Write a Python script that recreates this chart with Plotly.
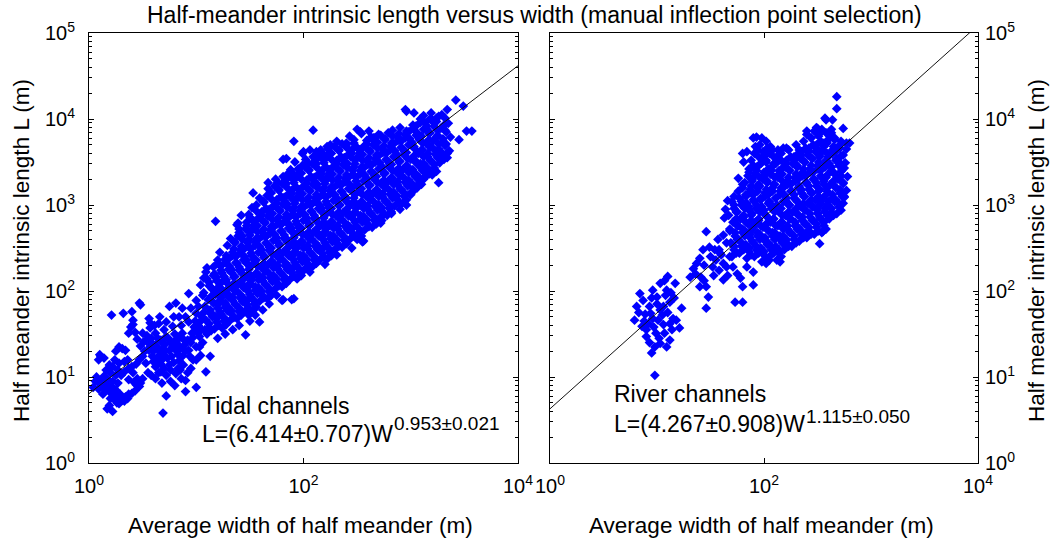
import plotly.graph_objects as go

# ---------------------------------------------------------------------------
# Half-meander measurements, stored as log10 values (W = average width,
# L = intrinsic length, both in metres).
# ---------------------------------------------------------------------------

# Tidal channels: narrow channels (W ~ 1-3 m)
tidal_lw_narrow = [
    0.06, 0.11, 0.09, 0.14, 0.28, 0.31, 0.34, 0.25, 0.19, 0.16,
    0.22, 0.28, 0.33, 0.40, 0.44, 0.47, 0.37, 0.14, 0.12, 0.17,
    0.22, 0.25, 0.20, 0.10, 0.12, 0.16, 0.19, 0.25, 0.22, 0.09,
    0.34, 0.37, 0.40, 0.43, 0.47, 0.45, 0.42, 0.37, 0.50, 0.48,
    0.31, 0.28, 0.23, 0.26, 0.19, 0.22, 0.17, 0.28, 0.33, 0.30,
    0.33, 0.27, 0.10, 0.21, 0.69, 0.04, 0.07, 0.15, 0.29,
    0.18, 0.24, 0.44, 0.13, 0.20, 0.36, 0.27, 0.41, 0.36, 0.24,
]
tidal_ll_narrow = [
    0.95, 1.24, 1.20, 1.22, 1.35, 1.33, 1.31, 1.30, 1.14, 1.08,
    1.12, 1.16, 1.18, 1.12, 1.15, 1.20, 1.10, 1.01, 0.96, 0.98,
    0.95, 1.02, 1.05, 0.92, 0.89, 0.86, 0.83, 0.85, 0.88, 0.86,
    0.77, 0.80, 0.81, 0.84, 0.89, 0.98, 0.94, 0.97, 0.98, 0.93,
    0.73, 0.75, 0.75, 0.70, 0.67, 0.60, 0.63, 0.69, 0.72, 1.02,
    1.06, 1.08, 1.26, 1.72, 0.58, 0.88, 1.00, 0.92, 0.80,
    0.90, 0.80, 0.91, 0.80, 0.75, 0.75, 0.93, 1.05, 1.20, 1.20,
]

# Tidal channels: W ~ 2.5-13 m
tidal_lw_small = [
    0.40, 0.47, 0.39, 0.50, 0.56, 0.65, 0.75, 0.81, 0.87, 0.72,
    0.78, 0.87, 0.93, 1.00, 0.59, 0.65, 0.59, 0.68, 0.62, 0.75,
    0.56, 0.53, 0.81, 0.87, 0.93, 1.00, 0.82, 0.75, 0.72, 0.81,
    0.90, 1.00, 0.90, 0.72, 1.09, 1.13, 1.03, 0.96, 1.00, 0.93,
    1.10, 0.62, 0.67, 0.60, 0.63, 0.66, 0.69, 0.70, 0.62, 0.68,
    0.58, 0.55, 0.64, 0.71, 0.73, 0.77, 0.79, 0.84, 0.85, 0.89,
    0.92, 0.95, 0.98, 1.02, 1.05, 1.07, 0.84, 0.80, 0.76, 0.86,
    0.90, 0.84, 0.70, 0.66, 0.61, 0.57, 0.54, 0.52, 0.50, 0.48,
    0.45, 0.43, 0.55, 0.62, 0.68, 0.76, 0.80, 0.85, 0.95, 0.97,
    0.92, 1.04, 1.06, 1.08, 1.00, 0.86, 0.67, 0.58, 0.32, 0.41,
    0.48, 0.57, 0.54, 0.41, 0.37, 0.51,
    0.60, 0.64, 0.67, 0.71, 0.74, 0.78, 0.80, 0.83, 0.88, 0.90,
    0.94, 0.97, 0.99, 1.01, 1.05, 0.88, 0.83, 0.70, 0.65, 0.76,
    0.57, 0.72, 0.79, 0.95, 1.03,
]
tidal_ll_small = [
    1.76, 1.86, 1.58, 1.51, 1.68, 1.62, 1.82, 1.86, 1.80, 1.47,
    1.59, 1.51, 1.64, 1.74, 1.39, 1.31, 1.24, 1.20, 1.12, 1.14,
    1.31, 1.16, 1.31, 1.24, 1.31, 1.35, 1.39, 1.31, 1.02, 1.04,
    0.96, 0.88, 0.83, 0.78, 1.06, 1.24, 1.47, 1.51, 1.89, 1.97,
    2.27, 1.51, 1.43, 1.30, 1.20, 1.26, 1.33, 1.24, 1.37, 1.40,
    1.45, 1.40, 1.45, 1.38, 1.22, 1.24, 1.17, 1.19, 1.33, 1.37,
    1.43, 1.40, 1.58, 1.60, 1.66, 1.75, 1.45, 1.50, 1.40, 1.60,
    1.70, 1.70, 1.55, 1.70, 1.60, 1.57, 1.48, 1.30, 1.24, 1.36,
    1.44, 1.52, 1.05, 0.98, 0.93, 0.95, 0.90, 1.08, 1.10, 1.20,
    1.05, 1.25, 1.40, 1.55, 1.20, 0.98, 1.06, 1.02, 1.74, 1.66,
    1.84, 1.63, 1.43, 1.61, 1.51, 1.41,
    1.18, 1.34, 1.15, 1.30, 1.45, 1.35, 1.42, 1.26, 1.44, 1.30,
    1.24, 1.46, 1.65, 1.52, 1.55, 1.14, 1.10, 1.10, 1.05, 1.08,
    1.35, 1.64, 1.70, 1.80, 1.35,
]

# Tidal channels: lower edge of the main group (W ~ 10-80 m)
tidal_lw_edge = [
    1.20, 1.27, 1.34, 1.40, 1.46, 1.50, 1.59, 1.55, 1.62, 1.68,
    1.80, 1.81, 1.89, 1.75, 1.03, 1.05, 1.02, 1.06, 1.04, 1.07,
    1.18, 1.23, 1.27, 1.40, 1.49,
]
tidal_ll_edge = [
    1.45, 1.50, 1.55, 1.60, 1.49, 1.65, 1.64, 1.72, 1.78, 1.85,
    1.89, 1.90, 1.90, 1.95, 1.55, 1.70, 1.82, 1.95, 2.07, 2.15,
    1.70, 2.03, 1.86, 1.80, 1.72,
]

# Tidal channels: main group (W ~ 12-2300 m), one line per width band
tidal_lw_main = [
    1.10, 1.12, 1.09, 1.13, 1.08, 1.11, 1.07, 1.12, 1.10, 1.09,
    1.17, 1.19, 1.16, 1.20, 1.15, 1.18, 1.14, 1.19, 1.17, 1.16, 1.20,
    1.24, 1.26, 1.23, 1.27, 1.22, 1.25, 1.21, 1.26, 1.24, 1.23, 1.27, 1.22,
    1.31, 1.33, 1.30, 1.34, 1.29, 1.32, 1.28, 1.33, 1.31, 1.30, 1.34, 1.29, 1.32,
    1.38, 1.40, 1.37, 1.41, 1.36, 1.39, 1.35, 1.40, 1.38, 1.37, 1.41, 1.36, 1.39, 1.40,
    1.45, 1.47, 1.44, 1.48, 1.43, 1.46, 1.42, 1.47, 1.45, 1.44, 1.48, 1.43, 1.46, 1.47, 1.42,
    1.52, 1.54, 1.51, 1.55, 1.50, 1.53, 1.49, 1.54, 1.52, 1.51, 1.55, 1.50, 1.53, 1.54, 1.49, 1.52,
    1.59, 1.61, 1.58, 1.62, 1.57, 1.60, 1.56, 1.61, 1.59, 1.58, 1.62, 1.57, 1.60, 1.61, 1.56, 1.59,
    1.66, 1.68, 1.65, 1.69, 1.64, 1.67, 1.63, 1.68, 1.66, 1.65, 1.69, 1.64, 1.67, 1.68, 1.63, 1.66, 1.67,
    1.73, 1.75, 1.72, 1.76, 1.71, 1.74, 1.70, 1.75, 1.73, 1.72, 1.76, 1.71, 1.74, 1.75, 1.70, 1.73, 1.74,
    1.80, 1.82, 1.79, 1.83, 1.78, 1.81, 1.77, 1.82, 1.80, 1.79, 1.83, 1.78, 1.81, 1.82, 1.77, 1.80, 1.81,
    1.87, 1.89, 1.86, 1.90, 1.85, 1.88, 1.84, 1.89, 1.87, 1.86, 1.90, 1.85, 1.88, 1.89, 1.84, 1.87, 1.88,
    1.94, 1.96, 1.93, 1.97, 1.92, 1.95, 1.91, 1.96, 1.94, 1.93, 1.97, 1.92, 1.95, 1.96, 1.91, 1.94, 1.95, 1.92,
    2.01, 2.03, 2.00, 2.04, 1.99, 2.02, 1.98, 2.03, 2.01, 2.00, 2.04, 1.99, 2.02, 2.03, 1.98, 2.01, 2.02,
    2.08, 2.10, 2.07, 2.11, 2.06, 2.09, 2.05, 2.10, 2.08, 2.07, 2.11, 2.06, 2.09, 2.10, 2.05, 2.08, 2.09, 2.06,
    2.15, 2.17, 2.14, 2.18, 2.13, 2.16, 2.12, 2.17, 2.15, 2.14, 2.18, 2.13, 2.16, 2.17, 2.12, 2.15, 2.16,
    2.22, 2.24, 2.21, 2.25, 2.20, 2.23, 2.19, 2.24, 2.22, 2.21, 2.25, 2.20, 2.23, 2.24, 2.19, 2.22, 2.23,
    2.29, 2.31, 2.28, 2.32, 2.27, 2.30, 2.26, 2.31, 2.29, 2.28, 2.32, 2.27, 2.30, 2.31, 2.26, 2.29,
    2.36, 2.38, 2.35, 2.39, 2.34, 2.37, 2.33, 2.38, 2.36, 2.35, 2.39, 2.34, 2.37, 2.38, 2.33, 2.36,
    2.43, 2.45, 2.42, 2.46, 2.41, 2.44, 2.40, 2.45, 2.43, 2.42, 2.46, 2.41, 2.44, 2.45, 2.40, 2.43,
    2.50, 2.52, 2.49, 2.53, 2.48, 2.51, 2.47, 2.52, 2.50, 2.49, 2.53, 2.48, 2.51, 2.52, 2.47,
    2.57, 2.59, 2.56, 2.60, 2.55, 2.58, 2.54, 2.59, 2.57, 2.56, 2.60, 2.55, 2.58, 2.59, 2.54,
    2.64, 2.66, 2.63, 2.67, 2.62, 2.65, 2.61, 2.66, 2.64, 2.63, 2.67, 2.62, 2.65, 2.66, 2.61,
    2.71, 2.73, 2.70, 2.74, 2.69, 2.72, 2.68, 2.73, 2.71, 2.70, 2.74, 2.69, 2.72,
    2.78, 2.80, 2.77, 2.81, 2.76, 2.79, 2.75, 2.80, 2.78, 2.77, 2.81, 2.76, 2.79,
    2.85, 2.87, 2.84, 2.88, 2.83, 2.86, 2.82, 2.87, 2.85, 2.84, 2.88, 2.83,
    2.92, 2.94, 2.91, 2.95, 2.90, 2.93, 2.89, 2.94, 2.92, 2.91, 2.95, 2.90,
    2.99, 3.01, 2.98, 3.02, 2.97, 3.00, 2.96, 3.01, 2.99, 2.98, 3.02,
    3.06, 3.08, 3.05, 3.09, 3.04, 3.07, 3.03, 3.08, 3.06, 3.05, 3.09,
    3.13, 3.15, 3.12, 3.16, 3.11, 3.14, 3.10, 3.15, 3.13, 3.12,
    3.20, 3.22, 3.19, 3.23, 3.18, 3.21, 3.17, 3.22, 3.20, 3.19,
    3.27, 3.29, 3.26, 3.30, 3.25, 3.28, 3.24, 3.29,
    3.34, 3.36, 3.33, 3.37, 3.32, 3.35,
    # in-between bands
    1.14, 1.12, 1.15, 1.13, 1.16, 1.14, 1.15, 1.12, 1.16,
    1.21, 1.19, 1.22, 1.20, 1.23, 1.21, 1.22, 1.19, 1.23, 1.20,
    1.28, 1.26, 1.29, 1.27, 1.30, 1.28, 1.29, 1.26, 1.30, 1.27, 1.28,
    1.35, 1.33, 1.36, 1.34, 1.37, 1.35, 1.36, 1.33, 1.37, 1.34, 1.35, 1.36,
    1.42, 1.40, 1.43, 1.41, 1.44, 1.42, 1.43, 1.40, 1.44, 1.41, 1.42, 1.43, 1.40,
    1.49, 1.47, 1.50, 1.48, 1.51, 1.49, 1.50, 1.47, 1.51, 1.48, 1.49, 1.50, 1.47, 1.51,
    1.56, 1.54, 1.57, 1.55, 1.58, 1.56, 1.57, 1.54, 1.58, 1.55, 1.56, 1.57, 1.54, 1.58, 1.56,
    1.63, 1.61, 1.64, 1.62, 1.65, 1.63, 1.64, 1.61, 1.65, 1.62, 1.63, 1.64, 1.61, 1.65, 1.63,
    1.70, 1.68, 1.71, 1.69, 1.72, 1.70, 1.71, 1.68, 1.72, 1.69, 1.70, 1.71, 1.68, 1.72, 1.70, 1.69,
    1.77, 1.75, 1.78, 1.76, 1.79, 1.77, 1.78, 1.75, 1.79, 1.76, 1.77, 1.78, 1.75, 1.79, 1.77, 1.76,
    1.84, 1.82, 1.85, 1.83, 1.86, 1.84, 1.85, 1.82, 1.86, 1.83, 1.84, 1.85, 1.82, 1.86, 1.84, 1.83,
    1.91, 1.89, 1.92, 1.90, 1.93, 1.91, 1.92, 1.89, 1.93, 1.90, 1.91, 1.92, 1.89, 1.93, 1.91, 1.90,
    1.98, 1.96, 1.99, 1.97, 2.00, 1.98, 1.99, 1.96, 2.00, 1.97, 1.98, 1.99, 1.96, 2.00, 1.98, 1.97, 1.99,
    2.05, 2.03, 2.06, 2.04, 2.07, 2.05, 2.06, 2.03, 2.07, 2.04, 2.05, 2.06, 2.03, 2.07, 2.05, 2.04,
    2.12, 2.10, 2.13, 2.11, 2.14, 2.12, 2.13, 2.10, 2.14, 2.11, 2.12, 2.13, 2.10, 2.14, 2.12, 2.11, 2.13,
    2.19, 2.17, 2.20, 2.18, 2.21, 2.19, 2.20, 2.17, 2.21, 2.18, 2.19, 2.20, 2.17, 2.21, 2.19, 2.18,
    2.26, 2.24, 2.27, 2.25, 2.28, 2.26, 2.27, 2.24, 2.28, 2.25, 2.26, 2.27, 2.24, 2.28, 2.26, 2.25,
    2.33, 2.31, 2.34, 2.32, 2.35, 2.33, 2.34, 2.31, 2.35, 2.32, 2.33, 2.34, 2.31, 2.35, 2.33,
    2.40, 2.38, 2.41, 2.39, 2.42, 2.40, 2.41, 2.38, 2.42, 2.39, 2.40, 2.41, 2.38, 2.42, 2.40,
    2.47, 2.45, 2.48, 2.46, 2.49, 2.47, 2.48, 2.45, 2.49, 2.46, 2.47, 2.48, 2.45, 2.49, 2.47,
    2.54, 2.52, 2.55, 2.53, 2.56, 2.54, 2.55, 2.52, 2.56, 2.53, 2.54, 2.55, 2.52, 2.56,
    2.61, 2.59, 2.62, 2.60, 2.63, 2.61, 2.62, 2.59, 2.63, 2.60, 2.61, 2.62, 2.59, 2.63,
    2.68, 2.66, 2.69, 2.67, 2.70, 2.68, 2.69, 2.66, 2.70, 2.67, 2.68, 2.69, 2.66, 2.70,
    2.75, 2.73, 2.76, 2.74, 2.77, 2.75, 2.76, 2.73, 2.77, 2.74, 2.75, 2.76,
    2.82, 2.80, 2.83, 2.81, 2.84, 2.82, 2.83, 2.80, 2.84, 2.81, 2.82, 2.83,
    2.89, 2.87, 2.90, 2.88, 2.91, 2.89, 2.90, 2.87, 2.91, 2.88, 2.89,
    2.96, 2.94, 2.97, 2.95, 2.98, 2.96, 2.97, 2.94, 2.98, 2.95, 2.96,
    3.03, 3.01, 3.04, 3.02, 3.05, 3.03, 3.04, 3.01, 3.05, 3.02,
    3.10, 3.08, 3.11, 3.09, 3.12, 3.10, 3.11, 3.08, 3.12, 3.09,
    3.17, 3.15, 3.18, 3.16, 3.19, 3.17, 3.18, 3.15, 3.19,
    3.24, 3.22, 3.25, 3.23, 3.26, 3.24, 3.25, 3.22, 3.26,
    3.31, 3.29, 3.32, 3.30, 3.33, 3.31, 3.32,
]
tidal_ll_main = [
    1.50, 1.58, 1.66, 1.74, 1.82, 1.90, 1.98, 2.06, 2.14, 2.22,
    1.56, 1.64, 1.72, 1.80, 1.88, 1.96, 2.04, 2.12, 2.20, 2.28, 2.36,
    1.57, 1.65, 1.73, 1.81, 1.89, 1.97, 2.05, 2.13, 2.21, 2.29, 2.37, 2.45,
    1.65, 1.73, 1.81, 1.89, 1.97, 2.05, 2.13, 2.21, 2.29, 2.37, 2.45, 2.53, 2.61,
    1.68, 1.76, 1.84, 1.92, 2.00, 2.08, 2.16, 2.24, 2.32, 2.40, 2.48, 2.56, 2.64, 2.72,
    1.76, 1.84, 1.92, 2.00, 2.08, 2.16, 2.24, 2.32, 2.40, 2.48, 2.56, 2.64, 2.72, 2.80, 2.88,
    1.77, 1.85, 1.93, 2.01, 2.09, 2.17, 2.25, 2.33, 2.41, 2.49, 2.57, 2.65, 2.73, 2.81, 2.89, 2.97,
    1.88, 1.96, 2.04, 2.12, 2.20, 2.28, 2.36, 2.44, 2.52, 2.60, 2.68, 2.76, 2.84, 2.92, 3.00, 3.08,
    1.91, 1.99, 2.07, 2.15, 2.23, 2.31, 2.39, 2.47, 2.55, 2.63, 2.71, 2.79, 2.87, 2.95, 3.03, 3.11, 3.19,
    2.02, 2.10, 2.18, 2.26, 2.34, 2.42, 2.50, 2.58, 2.66, 2.74, 2.82, 2.90, 2.98, 3.06, 3.14, 3.22, 3.30,
    2.05, 2.13, 2.21, 2.29, 2.37, 2.45, 2.53, 2.61, 2.69, 2.77, 2.85, 2.93, 3.01, 3.09, 3.17, 3.25, 3.33,
    2.13, 2.21, 2.29, 2.37, 2.45, 2.53, 2.61, 2.69, 2.77, 2.85, 2.93, 3.01, 3.09, 3.17, 3.25, 3.33, 3.41,
    2.14, 2.22, 2.30, 2.38, 2.46, 2.54, 2.62, 2.70, 2.78, 2.86, 2.94, 3.02, 3.10, 3.18, 3.26, 3.34, 3.42, 3.50,
    2.25, 2.33, 2.41, 2.49, 2.57, 2.65, 2.73, 2.81, 2.89, 2.97, 3.05, 3.13, 3.21, 3.29, 3.37, 3.45, 3.53,
    2.28, 2.36, 2.44, 2.52, 2.60, 2.68, 2.76, 2.84, 2.92, 3.00, 3.08, 3.16, 3.24, 3.32, 3.40, 3.48, 3.56, 3.64,
    2.36, 2.44, 2.52, 2.60, 2.68, 2.76, 2.84, 2.92, 3.00, 3.08, 3.16, 3.24, 3.32, 3.40, 3.48, 3.56, 3.64,
    2.37, 2.45, 2.53, 2.61, 2.69, 2.77, 2.85, 2.93, 3.01, 3.09, 3.17, 3.25, 3.33, 3.41, 3.49, 3.57, 3.65,
    2.48, 2.56, 2.64, 2.72, 2.80, 2.88, 2.96, 3.04, 3.12, 3.20, 3.28, 3.36, 3.44, 3.52, 3.60, 3.68,
    2.51, 2.59, 2.67, 2.75, 2.83, 2.91, 2.99, 3.07, 3.15, 3.23, 3.31, 3.39, 3.47, 3.55, 3.63, 3.71,
    2.60, 2.68, 2.76, 2.84, 2.92, 3.00, 3.08, 3.16, 3.24, 3.32, 3.40, 3.48, 3.56, 3.64, 3.72, 3.80,
    2.60, 2.68, 2.76, 2.84, 2.92, 3.00, 3.08, 3.16, 3.24, 3.32, 3.40, 3.48, 3.56, 3.64, 3.72,
    2.71, 2.79, 2.87, 2.95, 3.03, 3.11, 3.19, 3.27, 3.35, 3.43, 3.51, 3.59, 3.67, 3.75, 3.83,
    2.74, 2.82, 2.90, 2.98, 3.06, 3.14, 3.22, 3.30, 3.38, 3.46, 3.54, 3.62, 3.70, 3.78, 3.86,
    2.85, 2.93, 3.01, 3.09, 3.17, 3.25, 3.33, 3.41, 3.49, 3.57, 3.65, 3.73, 3.81,
    2.88, 2.96, 3.04, 3.12, 3.20, 3.28, 3.36, 3.44, 3.52, 3.60, 3.68, 3.76, 3.84,
    2.99, 3.07, 3.15, 3.23, 3.31, 3.39, 3.47, 3.55, 3.63, 3.71, 3.79, 3.87,
    3.02, 3.10, 3.18, 3.26, 3.34, 3.42, 3.50, 3.58, 3.66, 3.74, 3.82, 3.90,
    3.13, 3.21, 3.29, 3.37, 3.45, 3.53, 3.61, 3.69, 3.77, 3.85, 3.93,
    3.20, 3.28, 3.36, 3.44, 3.52, 3.60, 3.68, 3.76, 3.84, 3.92, 4.00,
    3.32, 3.40, 3.48, 3.56, 3.64, 3.72, 3.80, 3.88, 3.96, 4.04,
    3.35, 3.43, 3.51, 3.59, 3.67, 3.75, 3.83, 3.91, 3.99, 4.07,
    3.49, 3.57, 3.65, 3.73, 3.81, 3.89, 3.97, 4.05,
    3.55, 3.63, 3.71, 3.79, 3.87, 3.95,
    # in-between bands
    1.54, 1.62, 1.70, 1.78, 1.86, 1.94, 2.02, 2.10, 2.18,
    1.60, 1.68, 1.76, 1.84, 1.92, 2.00, 2.08, 2.16, 2.24, 2.32,
    1.61, 1.69, 1.77, 1.85, 1.93, 2.01, 2.09, 2.17, 2.25, 2.33, 2.41,
    1.69, 1.77, 1.85, 1.93, 2.01, 2.09, 2.17, 2.25, 2.33, 2.41, 2.49, 2.57,
    1.72, 1.80, 1.88, 1.96, 2.04, 2.12, 2.20, 2.28, 2.36, 2.44, 2.52, 2.60, 2.68,
    1.80, 1.88, 1.96, 2.04, 2.12, 2.20, 2.28, 2.36, 2.44, 2.52, 2.60, 2.68, 2.76, 2.84,
    1.81, 1.89, 1.97, 2.05, 2.13, 2.21, 2.29, 2.37, 2.45, 2.53, 2.61, 2.69, 2.77, 2.85, 2.93,
    1.92, 2.00, 2.08, 2.16, 2.24, 2.32, 2.40, 2.48, 2.56, 2.64, 2.72, 2.80, 2.88, 2.96, 3.04,
    1.95, 2.03, 2.11, 2.19, 2.27, 2.35, 2.43, 2.51, 2.59, 2.67, 2.75, 2.83, 2.91, 2.99, 3.07, 3.15,
    2.06, 2.14, 2.22, 2.30, 2.38, 2.46, 2.54, 2.62, 2.70, 2.78, 2.86, 2.94, 3.02, 3.10, 3.18, 3.26,
    2.09, 2.17, 2.25, 2.33, 2.41, 2.49, 2.57, 2.65, 2.73, 2.81, 2.89, 2.97, 3.05, 3.13, 3.21, 3.29,
    2.17, 2.25, 2.33, 2.41, 2.49, 2.57, 2.65, 2.73, 2.81, 2.89, 2.97, 3.05, 3.13, 3.21, 3.29, 3.37,
    2.18, 2.26, 2.34, 2.42, 2.50, 2.58, 2.66, 2.74, 2.82, 2.90, 2.98, 3.06, 3.14, 3.22, 3.30, 3.38, 3.46,
    2.29, 2.37, 2.45, 2.53, 2.61, 2.69, 2.77, 2.85, 2.93, 3.01, 3.09, 3.17, 3.25, 3.33, 3.41, 3.49,
    2.32, 2.40, 2.48, 2.56, 2.64, 2.72, 2.80, 2.88, 2.96, 3.04, 3.12, 3.20, 3.28, 3.36, 3.44, 3.52, 3.60,
    2.40, 2.48, 2.56, 2.64, 2.72, 2.80, 2.88, 2.96, 3.04, 3.12, 3.20, 3.28, 3.36, 3.44, 3.52, 3.60,
    2.41, 2.49, 2.57, 2.65, 2.73, 2.81, 2.89, 2.97, 3.05, 3.13, 3.21, 3.29, 3.37, 3.45, 3.53, 3.61,
    2.52, 2.60, 2.68, 2.76, 2.84, 2.92, 3.00, 3.08, 3.16, 3.24, 3.32, 3.40, 3.48, 3.56, 3.64,
    2.55, 2.63, 2.71, 2.79, 2.87, 2.95, 3.03, 3.11, 3.19, 3.27, 3.35, 3.43, 3.51, 3.59, 3.67,
    2.64, 2.72, 2.80, 2.88, 2.96, 3.04, 3.12, 3.20, 3.28, 3.36, 3.44, 3.52, 3.60, 3.68, 3.76,
    2.64, 2.72, 2.80, 2.88, 2.96, 3.04, 3.12, 3.20, 3.28, 3.36, 3.44, 3.52, 3.60, 3.68,
    2.75, 2.83, 2.91, 2.99, 3.07, 3.15, 3.23, 3.31, 3.39, 3.47, 3.55, 3.63, 3.71, 3.79,
    2.78, 2.86, 2.94, 3.02, 3.10, 3.18, 3.26, 3.34, 3.42, 3.50, 3.58, 3.66, 3.74, 3.82,
    2.89, 2.97, 3.05, 3.13, 3.21, 3.29, 3.37, 3.45, 3.53, 3.61, 3.69, 3.77,
    2.92, 3.00, 3.08, 3.16, 3.24, 3.32, 3.40, 3.48, 3.56, 3.64, 3.72, 3.80,
    3.03, 3.11, 3.19, 3.27, 3.35, 3.43, 3.51, 3.59, 3.67, 3.75, 3.83,
    3.06, 3.14, 3.22, 3.30, 3.38, 3.46, 3.54, 3.62, 3.70, 3.78, 3.86,
    3.17, 3.25, 3.33, 3.41, 3.49, 3.57, 3.65, 3.73, 3.81, 3.89,
    3.24, 3.32, 3.40, 3.48, 3.56, 3.64, 3.72, 3.80, 3.88, 3.96,
    3.36, 3.44, 3.52, 3.60, 3.68, 3.76, 3.84, 3.92, 4.00,
    3.39, 3.47, 3.55, 3.63, 3.71, 3.79, 3.87, 3.95, 4.03,
    3.53, 3.61, 3.69, 3.77, 3.85, 3.93, 4.01,
]

# Tidal channels: scattered meanders above and below the main group
tidal_lw_scatter = [
    1.18, 1.38, 1.50, 1.53, 1.67, 1.81, 1.88, 1.91, 2.09, 2.12,
    2.00, 1.99, 2.22, 2.31, 2.40, 2.53, 2.50, 2.65, 2.96, 3.03,
    3.18, 3.24, 3.34, 3.42, 3.49, 3.52, 3.57, 3.45, 3.34, 2.95,
    1.39, 1.84, 1.86, 2.25,
    2.20, 2.31, 2.56, 2.72, 2.90, 3.00, 3.07, 3.17, 3.26, 2.96,
    2.45, 2.06, 1.97, 1.91, 2.73, 2.82, 2.55, 3.12,
]
tidal_ll_scatter = [
    2.81, 2.77, 2.86, 3.14, 3.26, 3.53, 3.35, 3.74, 3.87, 3.62,
    3.62, 3.60, 3.68, 3.74, 3.70, 3.85, 3.88, 3.78, 4.09, 4.07,
    4.00, 4.01, 4.11, 4.22, 4.15, 3.86, 3.86, 3.76, 3.60, 4.11,
    2.79, 3.54, 3.37, 3.70,
    2.31, 2.42, 2.58, 2.79, 2.95, 3.12, 3.24, 3.39, 3.26, 3.00,
    2.50, 2.22, 2.19, 1.91, 2.82, 2.90, 2.57, 3.30,
]

# River channels: narrow reaches (W ~ 6-17 m)
river_lw_small = [
    0.84, 0.81, 0.79, 0.86, 0.90, 0.95, 0.98, 1.09, 1.07, 1.21,
    1.23, 1.17, 1.10, 1.03, 1.00, 1.03, 1.12, 1.15, 0.96, 1.06,
    0.93, 0.89, 0.99, 1.03, 1.12, 1.18, 1.09, 0.96, 1.06, 0.87,
    0.92, 0.97, 1.01, 1.05, 1.10, 1.08, 1.13, 1.00, 0.95, 0.90,
    0.93, 0.98, 1.02, 1.14, 1.07, 0.83, 0.94, 1.16, 1.12, 0.88,
]
river_ll_small = [
    1.97, 1.82, 1.66, 1.59, 1.47, 1.28, 1.02, 1.35, 1.51, 1.57,
    1.80, 2.09, 2.17, 2.09, 1.93, 1.78, 1.87, 1.68, 1.68, 1.61,
    1.82, 1.73, 1.51, 1.39, 1.43, 1.66, 2.01, 2.01, 1.82, 1.89,
    1.62, 1.58, 1.66, 1.72, 1.75, 1.95, 1.98, 1.85, 1.92, 1.55,
    1.40, 1.35, 1.45, 1.55, 2.12, 1.75, 1.74, 1.92, 1.62, 1.65,
]

# River channels: intermediate widths (W ~ 20-80 m)
river_lw_mid = [
    1.46, 1.43, 1.49, 1.40, 1.34, 1.31, 1.41, 1.46, 1.40, 1.48,
    1.46, 1.55, 1.58, 1.62, 1.52, 1.58, 1.65, 1.68, 1.65, 1.71,
    1.73, 1.80, 1.80, 1.90, 1.90, 1.54, 1.36, 1.44, 1.50, 1.53,
    1.44, 1.37, 1.60, 1.62, 1.57, 1.62, 1.68, 1.72, 1.66, 1.75,
    1.84, 1.78, 1.63, 1.64, 1.66, 1.72,
]
river_ll_mid = [
    2.69, 2.48, 2.51, 2.38, 2.26, 2.16, 2.16, 2.05, 2.05, 1.93,
    1.80, 2.36, 2.24, 2.13, 2.28, 2.48, 2.56, 2.40, 2.28, 2.28,
    1.87, 1.87, 2.05, 2.07, 2.22, 2.48, 2.20, 2.30, 2.40, 2.18,
    2.12, 2.32, 2.42, 2.32, 2.60, 2.65, 2.70, 2.52, 2.18, 2.20,
    2.28, 2.15, 2.85, 2.95, 3.05, 3.10,
]

# River channels: wide reaches (W ~ 50-600 m), one line per width band
river_lw_main = [
    1.70, 1.72, 1.69, 1.73, 1.68, 1.71, 1.67, 1.72, 1.70,
    1.77, 1.79, 1.76, 1.80, 1.75, 1.78, 1.74, 1.79, 1.77, 1.76, 1.80,
    1.84, 1.86, 1.83, 1.87, 1.82, 1.85, 1.81, 1.86, 1.84, 1.83, 1.87, 1.82, 1.85, 1.86, 1.81,
    1.91, 1.93, 1.90, 1.94, 1.89, 1.92, 1.88, 1.93, 1.91, 1.90, 1.94, 1.89, 1.92, 1.93, 1.88, 1.91, 1.92,
    1.98, 2.00, 1.97, 2.01, 1.96, 1.99, 1.95, 2.00, 1.98, 1.97, 2.01, 1.96, 1.99, 2.00, 1.95, 1.98, 1.99, 1.96, 1.98,
    2.05, 2.07, 2.04, 2.08, 2.03, 2.06, 2.02, 2.07, 2.05, 2.04, 2.08, 2.03, 2.06, 2.07, 2.02, 2.05, 2.06,
    2.12, 2.14, 2.11, 2.15, 2.10, 2.13, 2.09, 2.14, 2.12, 2.11, 2.15, 2.10, 2.13, 2.14, 2.09, 2.12, 2.13,
    2.19, 2.21, 2.18, 2.22, 2.17, 2.20, 2.16, 2.21, 2.19, 2.18, 2.22, 2.17, 2.20, 2.21, 2.16,
    2.26, 2.28, 2.25, 2.29, 2.24, 2.27, 2.23, 2.28, 2.26, 2.25, 2.29, 2.24, 2.27, 2.28, 2.23,
    2.33, 2.35, 2.32, 2.36, 2.31, 2.34, 2.30, 2.35, 2.33, 2.32, 2.36, 2.31, 2.34, 2.35, 2.30,
    2.40, 2.42, 2.39, 2.43, 2.38, 2.41, 2.37, 2.42, 2.40, 2.39, 2.43, 2.38, 2.41, 2.42, 2.37, 2.40,
    2.47, 2.49, 2.46, 2.50, 2.45, 2.48, 2.44, 2.49, 2.47, 2.46, 2.50, 2.45, 2.48, 2.49, 2.44, 2.47,
    2.54, 2.56, 2.53, 2.57, 2.52, 2.55, 2.51, 2.56, 2.54, 2.53, 2.57, 2.52, 2.55, 2.56, 2.51, 2.54,
    2.61, 2.63, 2.60, 2.64, 2.59, 2.62, 2.58, 2.63, 2.61, 2.60, 2.64, 2.59, 2.62, 2.63,
    2.68, 2.70, 2.67, 2.71, 2.66, 2.69, 2.65, 2.70, 2.68, 2.67, 2.71, 2.66,
    2.75, 2.77, 2.74, 2.78, 2.73, 2.76, 2.72, 2.77,
    # in-between bands
    1.74, 1.72, 1.75, 1.73, 1.76, 1.74, 1.75, 1.72,
    1.81, 1.79, 1.82, 1.80, 1.83, 1.81, 1.82, 1.79, 1.83, 1.80,
    1.88, 1.86, 1.89, 1.87, 1.90, 1.88, 1.89, 1.86, 1.90, 1.87, 1.88, 1.89, 1.86, 1.90,
    1.95, 1.93, 1.96, 1.94, 1.97, 1.95, 1.96, 1.93, 1.97, 1.94, 1.95, 1.96, 1.93, 1.97, 1.95, 1.94,
    2.02, 2.00, 2.03, 2.01, 2.04, 2.02, 2.03, 2.00, 2.04, 2.01, 2.02, 2.03, 2.00, 2.04, 2.02, 2.01, 2.03, 2.02,
    2.09, 2.07, 2.10, 2.08, 2.11, 2.09, 2.10, 2.07, 2.11, 2.08, 2.09, 2.10, 2.07, 2.11, 2.09, 2.08,
    2.16, 2.14, 2.17, 2.15, 2.18, 2.16, 2.17, 2.14, 2.18, 2.15, 2.16, 2.17, 2.14, 2.18, 2.16, 2.15,
    2.23, 2.21, 2.24, 2.22, 2.25, 2.23, 2.24, 2.21, 2.25, 2.22, 2.23, 2.24, 2.21, 2.25,
    2.30, 2.28, 2.31, 2.29, 2.32, 2.30, 2.31, 2.28, 2.32, 2.29, 2.30, 2.31, 2.28, 2.32,
    2.37, 2.35, 2.38, 2.36, 2.39, 2.37, 2.38, 2.35, 2.39, 2.36, 2.37, 2.38, 2.35, 2.39,
    2.44, 2.42, 2.45, 2.43, 2.46, 2.44, 2.45, 2.42, 2.46, 2.43, 2.44, 2.45, 2.42, 2.46, 2.44,
    2.51, 2.49, 2.52, 2.50, 2.53, 2.51, 2.52, 2.49, 2.53, 2.50, 2.51, 2.52, 2.49, 2.53, 2.51,
    2.58, 2.56, 2.59, 2.57, 2.60, 2.58, 2.59, 2.56, 2.60, 2.57, 2.58, 2.59, 2.56, 2.60, 2.58,
    2.65, 2.63, 2.66, 2.64, 2.67, 2.65, 2.66, 2.63, 2.67, 2.64, 2.65, 2.66, 2.63,
    2.72, 2.70, 2.73, 2.71, 2.74, 2.72, 2.73, 2.70, 2.74, 2.71, 2.72,
]
river_ll_main = [
    2.40, 2.48, 2.56, 2.64, 2.72, 2.80, 2.88, 2.96, 3.04,
    2.44, 2.52, 2.60, 2.68, 2.76, 2.84, 2.92, 3.00, 3.08, 3.16, 3.24,
    2.38, 2.46, 2.54, 2.62, 2.70, 2.78, 2.86, 2.94, 3.02, 3.10, 3.18, 3.26, 3.34, 3.42, 3.50,
    2.40, 2.48, 2.56, 2.64, 2.72, 2.80, 2.88, 2.96, 3.04, 3.12, 3.20, 3.28, 3.36, 3.44, 3.52, 3.60, 3.68,
    2.34, 2.42, 2.50, 2.58, 2.66, 2.74, 2.82, 2.90, 2.98, 3.06, 3.14, 3.22, 3.30, 3.38, 3.46, 3.54, 3.62, 3.70, 3.78,
    2.40, 2.48, 2.56, 2.64, 2.72, 2.80, 2.88, 2.96, 3.04, 3.12, 3.20, 3.28, 3.36, 3.44, 3.52, 3.60, 3.68,
    2.36, 2.44, 2.52, 2.60, 2.68, 2.76, 2.84, 2.92, 3.00, 3.08, 3.16, 3.24, 3.32, 3.40, 3.48, 3.56, 3.64,
    2.48, 2.56, 2.64, 2.72, 2.80, 2.88, 2.96, 3.04, 3.12, 3.20, 3.28, 3.36, 3.44, 3.52, 3.60,
    2.52, 2.60, 2.68, 2.76, 2.84, 2.92, 3.00, 3.08, 3.16, 3.24, 3.32, 3.40, 3.48, 3.56, 3.64,
    2.58, 2.66, 2.74, 2.82, 2.90, 2.98, 3.06, 3.14, 3.22, 3.30, 3.38, 3.46, 3.54, 3.62, 3.70,
    2.62, 2.70, 2.78, 2.86, 2.94, 3.02, 3.10, 3.18, 3.26, 3.34, 3.42, 3.50, 3.58, 3.66, 3.74, 3.82,
    2.66, 2.74, 2.82, 2.90, 2.98, 3.06, 3.14, 3.22, 3.30, 3.38, 3.46, 3.54, 3.62, 3.70, 3.78, 3.86,
    2.68, 2.76, 2.84, 2.92, 3.00, 3.08, 3.16, 3.24, 3.32, 3.40, 3.48, 3.56, 3.64, 3.72, 3.80, 3.88,
    2.84, 2.92, 3.00, 3.08, 3.16, 3.24, 3.32, 3.40, 3.48, 3.56, 3.64, 3.72, 3.80, 3.88,
    2.90, 2.98, 3.06, 3.14, 3.22, 3.30, 3.38, 3.46, 3.54, 3.62, 3.70, 3.78,
    3.09, 3.17, 3.25, 3.33, 3.41, 3.49, 3.57, 3.65,
    # in-between bands
    2.44, 2.52, 2.60, 2.68, 2.76, 2.84, 2.92, 3.00,
    2.48, 2.56, 2.64, 2.72, 2.80, 2.88, 2.96, 3.04, 3.12, 3.20,
    2.42, 2.50, 2.58, 2.66, 2.74, 2.82, 2.90, 2.98, 3.06, 3.14, 3.22, 3.30, 3.38, 3.46,
    2.44, 2.52, 2.60, 2.68, 2.76, 2.84, 2.92, 3.00, 3.08, 3.16, 3.24, 3.32, 3.40, 3.48, 3.56, 3.64,
    2.38, 2.46, 2.54, 2.62, 2.70, 2.78, 2.86, 2.94, 3.02, 3.10, 3.18, 3.26, 3.34, 3.42, 3.50, 3.58, 3.66, 3.74,
    2.44, 2.52, 2.60, 2.68, 2.76, 2.84, 2.92, 3.00, 3.08, 3.16, 3.24, 3.32, 3.40, 3.48, 3.56, 3.64,
    2.40, 2.48, 2.56, 2.64, 2.72, 2.80, 2.88, 2.96, 3.04, 3.12, 3.20, 3.28, 3.36, 3.44, 3.52, 3.60,
    2.52, 2.60, 2.68, 2.76, 2.84, 2.92, 3.00, 3.08, 3.16, 3.24, 3.32, 3.40, 3.48, 3.56,
    2.56, 2.64, 2.72, 2.80, 2.88, 2.96, 3.04, 3.12, 3.20, 3.28, 3.36, 3.44, 3.52, 3.60,
    2.62, 2.70, 2.78, 2.86, 2.94, 3.02, 3.10, 3.18, 3.26, 3.34, 3.42, 3.50, 3.58, 3.66,
    2.66, 2.74, 2.82, 2.90, 2.98, 3.06, 3.14, 3.22, 3.30, 3.38, 3.46, 3.54, 3.62, 3.70, 3.78,
    2.70, 2.78, 2.86, 2.94, 3.02, 3.10, 3.18, 3.26, 3.34, 3.42, 3.50, 3.58, 3.66, 3.74, 3.82,
    2.72, 2.80, 2.88, 2.96, 3.04, 3.12, 3.20, 3.28, 3.36, 3.44, 3.52, 3.60, 3.68, 3.76, 3.84,
    2.88, 2.96, 3.04, 3.12, 3.20, 3.28, 3.36, 3.44, 3.52, 3.60, 3.68, 3.76, 3.84,
    2.94, 3.02, 3.10, 3.18, 3.26, 3.34, 3.42, 3.50, 3.58, 3.66, 3.74,
]

# River channels: scattered meanders around the wide-reach group
river_lw_scatter = [
    2.68, 2.68, 2.58, 2.74, 2.77, 2.75, 2.75, 2.74, 2.55, 2.52,
    2.39, 2.50, 2.33, 2.18, 1.93, 1.80, 1.76, 1.90, 2.80, 2.72,
    2.64, 2.57, 2.49, 2.40, 2.21, 1.84, 2.02, 2.21, 2.33, 1.59,
    2.15, 2.05,
]
river_ll_scatter = [
    4.26, 4.12, 3.99, 3.89, 3.72, 3.43, 3.10, 3.02, 2.69, 2.55,
    2.67, 3.89, 3.64, 3.66, 3.79, 3.60, 3.31, 3.78, 3.72, 3.39,
    3.99, 4.01, 3.90, 3.86, 3.66, 3.62, 2.32, 2.51, 2.59, 2.44,
    2.34, 2.36,
]

# Power-law fits L = a * W^b
tidal_coef, tidal_coef_err, tidal_exp, tidal_exp_err = 6.414, 0.707, 0.953, 0.021
river_coef, river_coef_err, river_exp, river_exp_err = 4.267, 0.908, 1.115, 0.050
fit_width = [1.0, 1.0e4]

# ---------------------------------------------------------------------------
tidal_lw = tidal_lw_narrow + tidal_lw_small + tidal_lw_edge + tidal_lw_main + tidal_lw_scatter
tidal_ll = tidal_ll_narrow + tidal_ll_small + tidal_ll_edge + tidal_ll_main + tidal_ll_scatter
river_lw = river_lw_small + river_lw_mid + river_lw_main + river_lw_scatter
river_ll = river_ll_small + river_ll_mid + river_ll_main + river_ll_scatter
assert len(tidal_lw) == len(tidal_ll), (len(tidal_lw), len(tidal_ll))
assert len(river_lw) == len(river_ll), (len(river_lw), len(river_ll))

tidal_w = [10 ** v for v in tidal_lw]
tidal_l = [10 ** v for v in tidal_ll]
river_w = [10 ** v for v in river_lw]
river_l = [10 ** v for v in river_ll]

FONT = "Liberation Sans, Arial, Helvetica, sans-serif"
BLUE = "#0000ff"

# page geometry (pixels) of the two plotting boxes
W_PX, H_PX = 1055, 540
L_PX, R_PX, T_PX, B_PX = 89, 978, 33, 463


def px_x(p):
    return (p - L_PX) / (R_PX - L_PX)


def px_y(p):
    return (B_PX - p) / (B_PX - T_PX)


marker = dict(symbol="diamond", size=7.5, color=BLUE, line=dict(width=0))

fig = go.Figure()
fig.add_trace(go.Scatter(x=tidal_w, y=tidal_l, mode="markers", marker=marker,
                         xaxis="x", yaxis="y", showlegend=False, hoverinfo="skip"))
fig.add_trace(go.Scatter(x=fit_width, y=[tidal_coef * w ** tidal_exp for w in fit_width],
                         mode="lines", line=dict(color="#111111", width=1),
                         xaxis="x", yaxis="y", showlegend=False, hoverinfo="skip"))
fig.add_trace(go.Scatter(x=river_w, y=river_l, mode="markers", marker=marker,
                         xaxis="x2", yaxis="y2", showlegend=False, hoverinfo="skip"))
fig.add_trace(go.Scatter(x=fit_width, y=[river_coef * w ** river_exp for w in fit_width],
                         mode="lines", line=dict(color="#111111", width=1),
                         xaxis="x2", yaxis="y2", showlegend=False, hoverinfo="skip"))

x_ticks = [1, 100, 10000]
x_text = ["10<sup>%d</sup>" % e for e in (0, 2, 4)]
y_ticks = [10 ** e for e in range(6)]
y_text = ["10<sup>%d</sup>" % e for e in range(6)]
y_minor = [k * 10 ** e for e in range(5) for k in range(2, 10)]

axis_common = dict(
    type="log", showgrid=False, zeroline=False, showline=True, linecolor="black",
    linewidth=1, mirror="ticks", ticks="inside", ticklen=5, tickcolor="black",
    tickwidth=1, tickmode="array", tickfont=dict(family=FONT, size=20, color="black"),
)
x_axis = dict(axis_common, range=[0, 4], tickvals=x_ticks, ticktext=x_text,
              ticklabelstandoff=5)
y_axis = dict(axis_common, range=[0, 5], tickvals=y_ticks, ticktext=y_text,
              minor=dict(ticks="inside", ticklen=3, tickcolor="black", tickmode="array",
                         tickvals=y_minor, showgrid=False))

split_left = px_x(518)
split_right = px_x(550)

fig.update_layout(
    width=W_PX, height=H_PX,
    margin=dict(l=L_PX, r=W_PX - R_PX, t=T_PX, b=H_PX - B_PX, pad=0),
    paper_bgcolor="white", plot_bgcolor="white",
    font=dict(family=FONT, size=20, color="black"),
    xaxis=dict(x_axis, domain=[0, split_left], anchor="y"),
    yaxis=dict(y_axis, domain=[0, 1], anchor="x", side="left", ticklabelstandoff=9),
    xaxis2=dict(x_axis, domain=[split_right, 1], anchor="y2"),
    yaxis2=dict(y_axis, domain=[0, 1], anchor="x2", side="right", ticklabelstandoff=2),
)

eq_tidal = "L=(%.3f\u00b1%.3f)W" % (tidal_coef, tidal_coef_err)
exp_tidal = "%.3f\u00b1%.3f" % (tidal_exp, tidal_exp_err)
eq_river = "L=(%.3f\u00b1%.3f)W" % (river_coef, river_coef_err)
exp_river = "%.3f\u00b1%.3f" % (river_exp, river_exp_err)

y_title = "Half meander intrinsic length L (m)"
x_title = "Average width of half meander (m)"

notes = [
    dict(text="Half-meander intrinsic length versus width (manual inflection point selection)",
         x=534, y=15, size=23, xanchor="center", angle=0),
    dict(text=y_title, x=22, y=251, size=22.5, xanchor="center", angle=-90),
    dict(text=y_title, x=1037, y=251, size=22.5, xanchor="center", angle=-90),
    dict(text=x_title, x=300, y=525, size=22.5, xanchor="center", angle=0),
    dict(text=x_title, x=761, y=525, size=22.5, xanchor="center", angle=0),
    dict(text="Tidal channels", x=201, y=406, size=23, xanchor="left", angle=0),
    dict(text=eq_tidal, x=201, y=434, size=23, xanchor="left", angle=0),
    dict(text=exp_tidal, x=393, y=423, size=19, xanchor="left", angle=0),
    dict(text="River channels", x=613, y=394, size=23, xanchor="left", angle=0),
    dict(text=eq_river, x=613, y=424, size=23, xanchor="left", angle=0),
    dict(text=exp_river, x=805, y=416, size=19, xanchor="left", angle=0),
]
for n in notes:
    fig.add_annotation(text=n["text"], x=px_x(n["x"]), y=px_y(n["y"]),
                       xref="paper", yref="paper",
                       xanchor=n["xanchor"], yanchor="middle", textangle=n["angle"],
                       showarrow=False, borderpad=0,
                       font=dict(family=FONT, size=n["size"], color="black"))

fig.write_html("out.html", config={"displayModeBar": False})
